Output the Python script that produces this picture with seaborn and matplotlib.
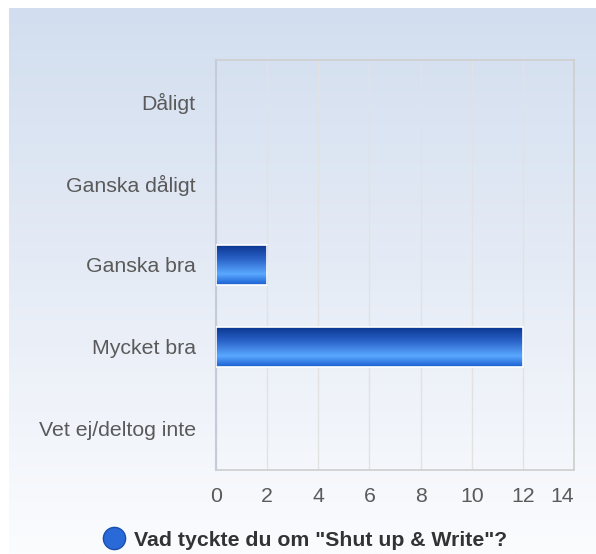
import numpy as np
import pandas as pd
import seaborn as sns
import matplotlib.pyplot as plt
from matplotlib.colors import LinearSegmentedColormap
from matplotlib.lines import Line2D

categories = ["Dåligt", "Ganska dåligt", "Ganska bra", "Mycket bra", "Vet ej/deltog inte"]
counts = [0, 0, 2, 12, 0]
x_ticks = [0, 2, 4, 6, 8, 10, 12, 14]
title = 'Vad tyckte du om "Shut up & Write"?'

df = pd.DataFrame({"svar": categories, "antal": counts})

sns.set_theme(style="white")
plt.rcParams['font.family'] = ['Liberation Sans', 'DejaVu Sans']

fig = plt.figure(figsize=(5.96, 5.54), dpi=100)
fig.patch.set_facecolor("white")

# background panel gradient
bg = fig.add_axes([9/596, 0, 1 - 9/596, 546/554], zorder=-5)
bg_cmap = LinearSegmentedColormap.from_list("bg", ["#d2deef", "#e6ecf6", "#fbfcfe"])
bg.imshow(np.linspace(0, 1, 256).reshape(-1, 1), cmap=bg_cmap, aspect="auto",
          extent=[0, 1, 0, 1], origin="upper")
bg.axis("off")

ax = fig.add_axes([216/596, 1 - 470/554, 358/596, 410/554])
ax.set_facecolor("none")
sns.barplot(data=df, x="antal", y="svar", orient="h", width=0.48,
            color="#2a6ad8", edgecolor="white", linewidth=1.2, ax=ax)

ax.set_xlim(0, 14)
ax.set_ylim(4.5, -0.5)
ax.set_xticks(x_ticks)
ax.set_xlabel("")
ax.set_ylabel("")
ax.grid(axis="x", color="#e2e2e2", linewidth=1)
ax.set_axisbelow(True)
for s in ["top", "right", "bottom"]:
    ax.spines[s].set_color("#cfcfcf")
ax.spines["left"].set_color("#c5cbd8")
ax.spines["left"].set_linewidth(1.5)
ax.tick_params(axis="y", length=0, pad=14.5, labelsize=15.3, labelcolor="#5a5a5a")
ax.tick_params(axis="x", length=0, pad=12, labelsize=15.3, labelcolor="#5a5a5a")
ax.get_xticklabels()[-1].set_horizontalalignment("right")

# gradient fill on bars
bar_cmap = LinearSegmentedColormap.from_list(
    "bar", [(0, "#0a3690"), (0.35, "#2a62c8"), (0.72, "#5aa8ff"), (1, "#1a5fd0")])
grad = np.linspace(0, 1, 256).reshape(-1, 1)
for p in ax.patches:
    w = p.get_width()
    if w <= 0:
        continue
    x0, y0 = p.get_x(), p.get_y()
    h = p.get_height()
    im = ax.imshow(grad, cmap=bar_cmap, aspect="auto",
                   extent=[x0, x0 + w, y0 + h, y0], origin="upper", zorder=3)
    im.set_clip_path(p)
    p.set_facecolor("none")
    p.set_zorder(4)
ax.set_xlim(0, 14)
ax.set_ylim(4.5, -0.5)

handle = Line2D([], [], marker="o", linestyle="none", markersize=16,
                markerfacecolor="#2a6ad8", markeredgecolor="#1a4fb0")
leg = fig.legend([handle], [title], loc="center", bbox_to_anchor=(0.51, 1 - 540/554),
                 frameon=False, handletextpad=0.35, handlelength=1.2,
                 prop={"weight": "bold", "size": 15.3})
for t in leg.get_texts():
    t.set_color("#333333")

fig.savefig("out.png", dpi=100)
